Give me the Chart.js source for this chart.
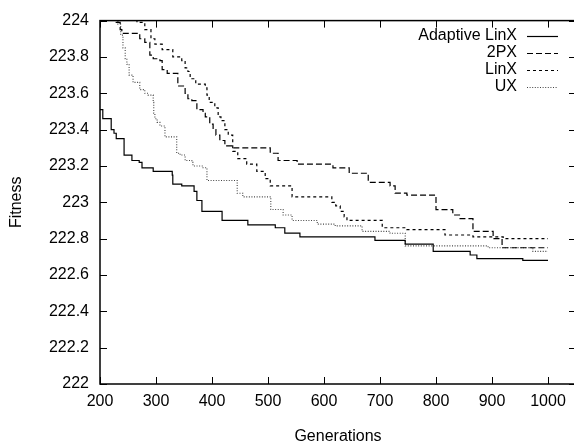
<!DOCTYPE html>
<html>
<head>
<meta charset="utf-8">
<script src="https://cdn.jsdelivr.net/npm/chart.js@4.4.1/dist/chart.umd.min.js"></script>
<style>
html,body{margin:0;padding:0;background:#fff;overflow:hidden;}
#wrap{width:580px;height:448px;}
</style>
</head>
<body>
<div id="wrap"><canvas id="c" width="580" height="448"></canvas></div>
<script>
// ---- data ----
const xTicks = [200, 300, 400, 500, 600, 700, 800, 900, 1000];
const yTicks = [222, 222.2, 222.4, 222.6, 222.8, 223, 223.2, 223.4, 223.6, 223.8, 224];
const seriesNames = ["Adaptive LinX", "2PX", "LinX", "UX"];

const adaptiveGen = [200, 205, 220, 225, 229, 243, 257, 270, 275, 295, 329, 330, 346, 368, 373, 382, 418, 464, 513, 530, 557, 691, 745, 795, 861, 873, 955, 1000];
const adaptiveFit = [223.51, 223.46, 223.40, 223.38, 223.35, 223.26, 223.23, 223.22, 223.19, 223.17, 223.15, 223.10, 223.09, 223.06, 223.01, 222.95, 222.90, 222.876, 222.86, 222.83, 222.81, 222.79, 222.77, 222.73, 222.71, 222.69, 222.68, 222.68];

const twoPxGen = [200, 229, 236, 239, 271, 280, 289, 295, 307, 311, 320, 339, 352, 357, 364, 373, 384, 388, 396, 402, 407, 414, 423, 437, 504, 518, 552, 616, 645, 679, 718, 727, 748, 800, 830, 843, 866, 902, 918, 1000];
const twoPxFit = [224.3, 223.99, 223.95, 223.93, 223.90, 223.88, 223.81, 223.79, 223.78, 223.73, 223.71, 223.64, 223.60, 223.57, 223.56, 223.51, 223.49, 223.47, 223.43, 223.40, 223.37, 223.34, 223.31, 223.30, 223.27, 223.23, 223.21, 223.19, 223.16, 223.11, 223.09, 223.05, 223.04, 222.96, 222.93, 222.91, 222.84, 222.80, 222.75, 222.75];

const linxGen = [200, 266, 280, 291, 298, 311, 330, 346, 352, 357, 361, 371, 388, 391, 395, 405, 411, 416, 423, 429, 437, 446, 462, 480, 495, 504, 543, 614, 621, 629, 636, 641, 704, 748, 816, 866, 920, 1000];
const linxFit = [224.3, 223.99, 223.95, 223.90, 223.87, 223.84, 223.80, 223.78, 223.74, 223.72, 223.68, 223.65, 223.63, 223.59, 223.55, 223.52, 223.47, 223.45, 223.40, 223.37, 223.28, 223.24, 223.21, 223.17, 223.13, 223.09, 223.03, 223.00, 222.98, 222.95, 222.92, 222.90, 222.86, 222.85, 222.82, 222.81, 222.80, 222.80];

const uxGen = [200, 232, 237, 241, 245, 248, 252, 259, 271, 280, 286, 295, 296, 298, 302, 307, 316, 337, 343, 352, 364, 366, 384, 391, 445, 455, 505, 527, 543, 588, 620, 668, 718, 745, 893, 973, 1000];
const uxFit = [224.3, 223.98, 223.92, 223.85, 223.79, 223.76, 223.70, 223.66, 223.62, 223.60, 223.59, 223.55, 223.49, 223.46, 223.44, 223.42, 223.36, 223.27, 223.26, 223.23, 223.22, 223.20, 223.19, 223.12, 223.05, 223.03, 222.96, 222.93, 222.90, 222.88, 222.87, 222.84, 222.83, 222.76, 222.75, 222.73, 222.73];

const gens = [adaptiveGen, twoPxGen, linxGen, uxGen];
const fits = [adaptiveFit, twoPxFit, linxFit, uxFit];
const colors = ["#000000", "#000000", "#000000", "#444444"];
const dashes = [[], [6, 3], [3, 3], [1, 1.6]];
const widths = [1.2, 1.2, 1.2, 1.1];

const datasets = seriesNames.map((name, i) => ({
  label: name,
  data: gens[i].map((g, k) => ({x: g, y: fits[i][k]})),
  borderColor: colors[i],
  borderWidth: widths[i],
  borderDash: dashes[i],
  pointRadius: 0,
  fill: false,
  stepped: 'before',
  tension: 0
}));

const FONT = '"Liberation Sans", Arial, Helvetica, sans-serif';

const framePlugin = {
  id: 'frame',
  afterDraw(chart) {
    const {ctx, chartArea: a, scales} = chart;
    ctx.save();
    ctx.strokeStyle = '#000';
    ctx.lineWidth = 1.5;
    ctx.setLineDash([]);
    ctx.strokeRect(a.left, a.top, a.right - a.left, a.bottom - a.top);
    ctx.lineWidth = 1;
    const tl = 7;
    ctx.beginPath();
    xTicks.forEach(v => {
      const px = Math.round(scales.x.getPixelForValue(v)) + 0.5;
      ctx.moveTo(px, a.bottom); ctx.lineTo(px, a.bottom - tl);
      ctx.moveTo(px, a.top); ctx.lineTo(px, a.top + tl);
    });
    yTicks.forEach(v => {
      const py = Math.round(scales.y.getPixelForValue(v)) + 0.5;
      ctx.moveTo(a.left, py); ctx.lineTo(a.left + tl, py);
      ctx.moveTo(a.right, py); ctx.lineTo(a.right - tl, py);
    });
    ctx.stroke();
    // key
    ctx.font = '16px ' + FONT;
    ctx.fillStyle = '#000';
    ctx.textAlign = 'right';
    ctx.textBaseline = 'middle';
    const rows = [36, 53, 70, 87];
    chart.data.datasets.forEach((ds, i) => {
      const y = rows[i];
      ctx.fillText(ds.label, 517, y);
      ctx.beginPath();
      ctx.strokeStyle = ds.borderColor;
      ctx.lineWidth = ds.borderWidth;
      ctx.setLineDash(ds.borderDash);
      ctx.moveTo(527, y + 0.5); ctx.lineTo(558, y + 0.5);
      ctx.stroke();
    });
    ctx.restore();
  }
};

new Chart(document.getElementById('c'), {
  type: 'line',
  data: {datasets},
  options: {
    responsive: false,
    animation: false,
    devicePixelRatio: 1,
    layout: {padding: {top: 12, right: 4, bottom: 0, left: 0}},
    plugins: {legend: {display: false}, tooltip: {enabled: false}},
    scales: {
      x: {
        type: 'linear',
        min: 200, max: 1050,
        afterBuildTicks: s => { s.ticks = xTicks.map(v => ({value: v})); },
        afterFit: s => { s.height = 64; },
        grid: {display: false, drawTicks: false},
        border: {display: false},
        ticks: {padding: 8, color: '#000', font: {family: FONT, size: 16}, maxRotation: 0, autoSkip: false,
                callback: v => String(v)},
        title: {display: true, text: 'Generations', color: '#000', font: {family: FONT, size: 16}, padding: {top: 0, bottom: 2}}
      },
      y: {
        type: 'linear',
        min: 222, max: 224,
        afterBuildTicks: s => { s.ticks = yTicks.map(v => ({value: v})); },
        afterFit: s => { s.width = 100; },
        grid: {display: false, drawTicks: false},
        border: {display: false},
        ticks: {padding: 11, color: '#000', font: {family: FONT, size: 16}, autoSkip: false,
                callback: v => String(Number(v.toFixed(1)))},
        title: {display: true, text: 'Fitness', color: '#000', font: {family: FONT, size: 16}, padding: {top: 7, bottom: 0}}
      }
    }
  },
  plugins: [framePlugin]
});
</script>
</body>
</html>
